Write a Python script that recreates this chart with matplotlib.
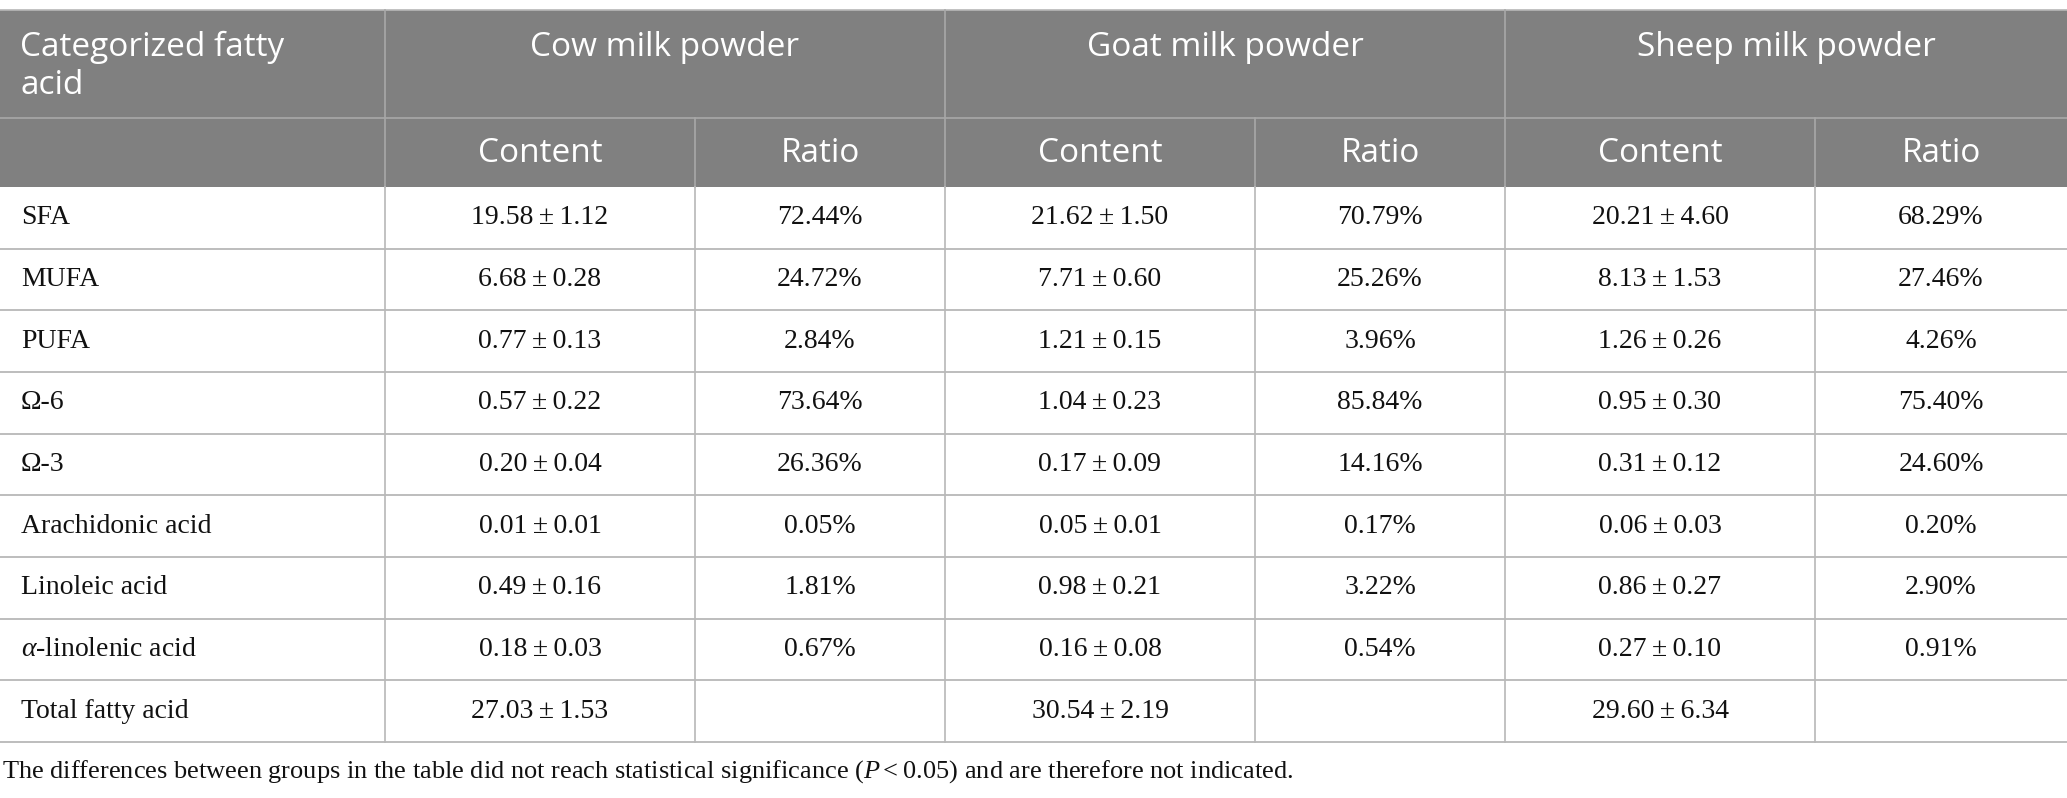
import matplotlib
matplotlib.use("Agg")
import matplotlib.pyplot as plt
from matplotlib.patches import Rectangle

plt.rcParams["mathtext.fontset"] = "custom"
plt.rcParams["mathtext.rm"] = "Liberation Serif"
plt.rcParams["mathtext.it"] = "Liberation Serif:italic"

# --- table content ---
groups = ["Cow milk powder", "Goat milk powder", "Sheep milk powder"]
sub_headers = ["Content", "Ratio"]
corner_lines = ["Categorized fatty", "acid"]
row_labels = ["SFA", "MUFA", "PUFA", "\u03a9-6", "\u03a9-3", "Arachidonic acid",
              "Linoleic acid", r"$\alpha$-linolenic acid", "Total fatty acid"]
cow_content = ["19.58", "1.12", "6.68", "0.28", "0.77", "0.13", "0.57", "0.22",
               "0.20", "0.04", "0.01", "0.01", "0.49", "0.16", "0.18", "0.03",
               "27.03", "1.53"]
cow_ratio = ["72.44%", "24.72%", "2.84%", "73.64%", "26.36%", "0.05%",
             "1.81%", "0.67%", ""]
goat_content = ["21.62", "1.50", "7.71", "0.60", "1.21", "0.15", "1.04", "0.23",
                "0.17", "0.09", "0.05", "0.01", "0.98", "0.21", "0.16", "0.08",
                "30.54", "2.19"]
goat_ratio = ["70.79%", "25.26%", "3.96%", "85.84%", "14.16%", "0.17%",
              "3.22%", "0.54%", ""]
sheep_content = ["20.21", "4.60", "8.13", "1.53", "1.26", "0.26", "0.95", "0.30",
                 "0.31", "0.12", "0.06", "0.03", "0.86", "0.27", "0.27", "0.10",
                 "29.60", "6.34"]
sheep_ratio = ["68.29%", "27.46%", "4.26%", "75.40%", "24.60%", "0.20%",
               "2.90%", "0.91%", ""]
footnote = ("The differences between groups in the table did not reach "
            "statistical significance ($P\\,$<\u20090.05) and are therefore "
            "not indicated.")

# --- layout (pixels) ---
W, H = 2067, 798
col_x = [0, 385, 695, 945, 1255, 1505, 1815, 2067]
y_top, y_h1, y_h2 = 10, 118, 187
row_h = (742 - y_h2) / len(row_labels)
HEAD_BG = "#808080"
HEAD_LINE = "#a8a8a8"
GRID = "#b8b8b8"
SANS = ["Open Sans", "DejaVu Sans"]
SERIF = ["Liberation Serif", "DejaVu Serif"]
HEAD_FS, BODY_FS = 24, 20


def pm(vals, i):
    return f"{vals[2 * i]}\u2009\u00b1\u2009{vals[2 * i + 1]}"


fig = plt.figure(figsize=(W / 100, H / 100), dpi=100)
ax = fig.add_axes([0, 0, 1, 1])
ax.set_xlim(0, W)
ax.set_ylim(H, 0)
ax.axis("off")

# header background
ax.add_patch(Rectangle((0, y_top), W, y_h2 - y_top, facecolor=HEAD_BG,
                       edgecolor="none", zorder=1))
ax.plot([0, W], [y_top, y_top], color=GRID, lw=1.2, zorder=2)
ax.plot([0, W], [y_h1, y_h1], color=HEAD_LINE, lw=1.2, zorder=2)
for x in col_x[1:-1:2]:
    ax.plot([x, x], [y_top, y_h2], color=HEAD_LINE, lw=1.2, zorder=2)
for x in col_x[2:-1:2]:
    ax.plot([x, x], [y_h1, y_h2], color=HEAD_LINE, lw=1.2, zorder=2)

for k, line in enumerate(corner_lines):
    ax.text(20, 47 + 38 * k, line, color="white", family=SANS,
            fontsize=HEAD_FS, ha="left", va="center", zorder=3)
for g, name in enumerate(groups):
    xc = (col_x[1 + 2 * g] + col_x[3 + 2 * g]) / 2
    ax.text(xc, 47, name, color="white", family=SANS, fontsize=HEAD_FS,
            ha="center", va="center", zorder=3)
    for k, sh in enumerate(sub_headers):
        xc = (col_x[1 + 2 * g + k] + col_x[2 + 2 * g + k]) / 2
        ax.text(xc, (y_h1 + y_h2) / 2 + 1, sh, color="white", family=SANS,
                fontsize=HEAD_FS, ha="center", va="center", zorder=3)

# body
contents = [cow_content, goat_content, sheep_content]
ratios = [cow_ratio, goat_ratio, sheep_ratio]
for i, lab in enumerate(row_labels):
    y0 = y_h2 + i * row_h
    yc = y0 + row_h / 2
    ax.plot([0, W], [y0 + row_h, y0 + row_h], color=GRID, lw=1.3, zorder=2)
    ax.text(21, yc, lab, family=SERIF, fontsize=BODY_FS, ha="left",
            va="center", color="#111111")
    for g in range(3):
        xc = (col_x[1 + 2 * g] + col_x[2 + 2 * g]) / 2
        ax.text(xc, yc, pm(contents[g], i), family=SERIF, fontsize=BODY_FS,
                ha="center", va="center", color="#111111")
        xr = (col_x[2 + 2 * g] + col_x[3 + 2 * g]) / 2
        ax.text(xr, yc, ratios[g][i], family=SERIF, fontsize=BODY_FS,
                ha="center", va="center", color="#111111")
for x in col_x[1:-1]:
    ax.plot([x, x], [y_h2, 742], color=GRID, lw=1.2, zorder=2)

ax.text(2, 772, footnote, family=SERIF, fontsize=19, ha="left",
        va="center", color="#111111")

fig.savefig("out.png", dpi=100, facecolor="white")
